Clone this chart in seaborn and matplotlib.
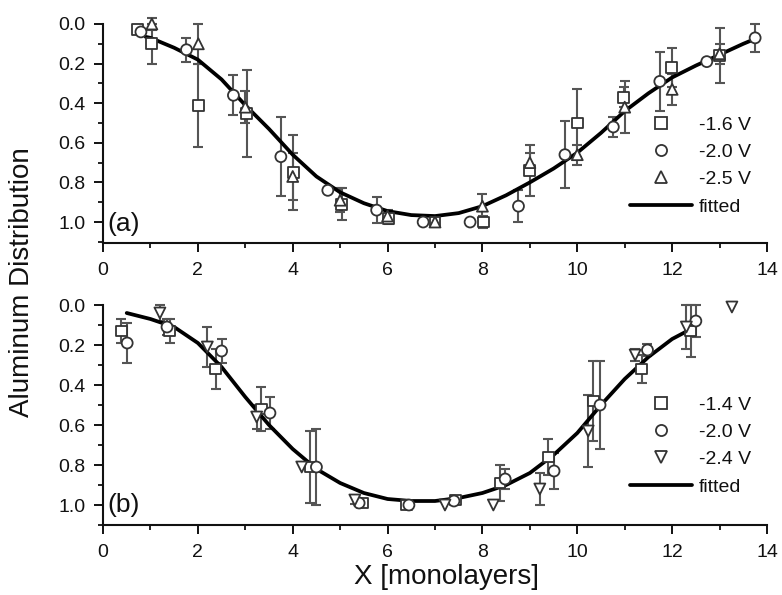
import matplotlib
matplotlib.use("Agg")
import numpy as np
import pandas as pd
import matplotlib.pyplot as plt
from matplotlib.lines import Line2D
from matplotlib.ticker import MultipleLocator, FormatStrFormatter
import seaborn as sns

sns.set_theme(style="ticks")
plt.rcParams["font.family"] = ["Liberation Sans", "DejaVu Sans"]

# ---------------- panel (a) ----------------
a_labels = ["-1.6 V", "-2.0 V", "-2.5 V"]

a16_x = [0.72, 1.03, 2.01, 3.03, 4.01, 5.03, 6.02, 7.0, 8.02, 9.0, 10.0, 10.98, 11.99, 13.0]
a16_y = [0.03, 0.10, 0.41, 0.45, 0.75, 0.91, 0.98, 1.0, 1.0, 0.74, 0.50, 0.37, 0.22, 0.16]
a16_e = [0.0, 0.10, 0.21, 0.22, 0.19, 0.08, 0.03, 0.0, 0.03, 0.13, 0.17, 0.05, 0.10, 0.14]

a20_x = [0.80, 1.76, 2.75, 3.75, 4.74, 5.77, 6.75, 7.74, 8.76, 9.74, 10.76, 11.74, 12.73, 13.75]
a20_y = [0.04, 0.13, 0.36, 0.67, 0.84, 0.94, 1.0, 1.0, 0.92, 0.66, 0.52, 0.29, 0.19, 0.07]
a20_e = [0.0, 0.06, 0.10, 0.20, 0.0, 0.065, 0.0, 0.0, 0.08, 0.17, 0.05, 0.15, 0.0, 0.07]

a25_x = [1.03, 2.01, 3.0, 4.0, 5.0, 6.0, 7.0, 8.0, 9.0, 10.0, 11.0, 12.0, 13.0]
a25_y = [0.0, 0.10, 0.42, 0.77, 0.89, 0.97, 1.0, 0.92, 0.70, 0.66, 0.42, 0.33, 0.15]
a25_e = [0.03, 0.10, 0.08, 0.12, 0.06, 0.03, 0.0, 0.06, 0.05, 0.05, 0.13, 0.08, 0.05]

fit_a_x = [0.9, 1.0, 1.5, 2.0, 2.5, 3.0, 3.5, 4.0, 4.5, 5.0, 5.5, 6.0, 6.5, 7.0,
           7.5, 8.0, 8.5, 9.0, 9.5, 10.0, 10.5, 11.0, 11.5, 12.0, 12.5, 13.0, 13.5, 13.8]
fit_a_y = [0.065, 0.07, 0.12, 0.18, 0.28, 0.41, 0.53, 0.66, 0.77, 0.85, 0.905, 0.945, 0.965, 0.97,
           0.955, 0.92, 0.865, 0.80, 0.73, 0.65, 0.55, 0.44, 0.35, 0.27, 0.21, 0.155, 0.10, 0.07]

# ---------------- panel (b) ----------------
b_labels = ["-1.4 V", "-2.0 V", "-2.4 V"]

b14_x = [0.39, 1.41, 2.38, 3.34, 4.37, 5.48, 6.39, 7.44, 8.37, 9.39, 10.34, 11.36, 12.39]
b14_y = [0.13, 0.13, 0.32, 0.52, 0.81, 0.99, 1.0, 0.975, 0.89, 0.76, 0.48, 0.32, 0.13]
b14_e = [0.06, 0.06, 0.10, 0.11, 0.18, 0.0, 0.0, 0.02, 0.09, 0.09, 0.20, 0.07, 0.13]

b20_x = [0.51, 1.35, 2.50, 3.52, 4.50, 5.40, 6.45, 7.40, 8.48, 9.51, 10.48, 11.48, 12.50]
b20_y = [0.19, 0.11, 0.23, 0.54, 0.81, 0.99, 1.0, 0.98, 0.87, 0.83, 0.50, 0.225, 0.08]
b20_e = [0.10, 0.04, 0.06, 0.08, 0.19, 0.0, 0.0, 0.0, 0.05, 0.09, 0.22, 0.03, 0.08]

b24_x = [1.20, 2.20, 3.24, 4.19, 5.31, 7.21, 8.23, 9.21, 10.23, 11.22, 12.30, 13.26]
b24_y = [0.04, 0.21, 0.56, 0.81, 0.975, 1.0, 1.0, 0.92, 0.63, 0.25, 0.11, 0.01]
b24_e = [0.04, 0.10, 0.06, 0.0, 0.02, 0.0, 0.0, 0.08, 0.18, 0.03, 0.11, 0.0]

fit_b_x = [0.5, 1.0, 1.5, 2.0, 2.5, 3.0, 3.5, 4.0, 4.5, 5.0, 5.5, 6.0, 6.5, 7.0,
           7.5, 8.0, 8.5, 9.0, 9.5, 10.0, 10.5, 11.0, 11.5, 12.0, 12.4]
fit_b_y = [0.04, 0.07, 0.11, 0.19, 0.31, 0.46, 0.60, 0.72, 0.82, 0.89, 0.94, 0.97, 0.98, 0.98,
           0.965, 0.94, 0.90, 0.84, 0.75, 0.64, 0.50, 0.37, 0.26, 0.17, 0.12]

x_ticks = [0, 2, 4, 6, 8, 10, 12, 14]
y_ticks = [0.0, 0.2, 0.4, 0.6, 0.8, 1.0]

INK = "#111111"
EDGE = "#333333"
BAR = "#555555"

W, H = 782, 595
fig = plt.figure(figsize=(W / 100, H / 100), dpi=100)
ax_a = fig.add_axes([103 / W, 1 - 243 / H, 664 / W, 219 / H])
ax_b = fig.add_axes([103 / W, 1 - 525 / H, 664 / W, 220 / H])


def series_frame(xs, ys, es, labels):
    rows = []
    for x, y, e, lab in zip(xs, ys, es, labels):
        for xi, yi, ei in zip(x, y, e):
            rows.append({"x": xi, "y": yi, "err": ei, "series": lab})
    return pd.DataFrame(rows)


def draw_panel(ax, df, labels, markers, fit_x, fit_y, ylim_bottom):
    # error bars first, underneath the open symbols
    for lab in labels:
        sub = df[(df["series"] == lab) & (df["err"] > 0)]
        ax.errorbar(sub["x"], sub["y"], yerr=sub["err"], fmt="none",
                    ecolor=BAR, elinewidth=1.5, capsize=3.8, capthick=1.5,
                    zorder=2, clip_on=False)
    # fitted profile
    fit_df = pd.DataFrame({"x": fit_x, "y": fit_y})
    sns.lineplot(data=fit_df, x="x", y="y", ax=ax, color="black", lw=2.7,
                 sort=False, zorder=3)
    # data symbols
    sns.scatterplot(data=df, x="x", y="y", style="series", style_order=labels,
                    markers=dict(zip(labels, markers)), ax=ax, s=62,
                    facecolor="white", edgecolor=EDGE, linewidth=1.3,
                    legend=False, zorder=4, clip_on=False)
    for coll in ax.collections:
        coll.set_clip_on(False)

    ax.set_xlim(0, 14)
    ax.set_ylim(ylim_bottom, 0.0)
    ax.set_xticks(x_ticks)
    ax.set_yticks(y_ticks)
    ax.xaxis.set_minor_locator(MultipleLocator(1))
    ax.yaxis.set_minor_locator(MultipleLocator(0.1))
    ax.yaxis.set_major_formatter(FormatStrFormatter("%.1f"))
    ax.set_xlabel("")
    ax.set_ylabel("")
    sns.despine(ax=ax)
    for sp in ("left", "bottom"):
        ax.spines[sp].set_linewidth(1.5)
        ax.spines[sp].set_color(INK)
    ax.tick_params(which="major", direction="out", length=6.5, width=1.4,
                   labelsize=14, color=INK, labelcolor=INK, pad=6)
    ax.tick_params(which="minor", direction="out", length=3.5, width=1.3,
                   color=INK)
    ax.tick_params(axis="x", which="major", pad=7)

    handles = [Line2D([], [], marker=m, ls="none", mfc="white", mec=EDGE,
                      mew=1.3, ms=8) for m in markers]
    handles.append(Line2D([], [], color="black", lw=2.7))
    return handles


df_a = series_frame([a16_x, a20_x, a25_x], [a16_y, a20_y, a25_y],
                    [a16_e, a20_e, a25_e], a_labels)
df_b = series_frame([b14_x, b20_x, b24_x], [b14_y, b20_y, b24_y],
                    [b14_e, b20_e, b24_e], b_labels)

h_a = draw_panel(ax_a, df_a, a_labels, ["s", "o", "^"], fit_a_x, fit_a_y, 1.106)
h_b = draw_panel(ax_b, df_b, b_labels, ["s", "o", "v"], fit_b_x, fit_b_y, 1.10)

leg_kw = dict(loc="upper left", bbox_transform=fig.transFigure, frameon=False,
              fontsize=14, handlelength=3.2, handletextpad=0.35,
              labelspacing=0.5, borderpad=0, borderaxespad=0)
leg_a = ax_a.legend(h_a, a_labels + ["fitted"], bbox_to_anchor=(630 / W, 1 - 116 / H), **leg_kw)
leg_b = ax_b.legend(h_b, b_labels + ["fitted"], bbox_to_anchor=(630 / W, 1 - 396 / H), **leg_kw)
for leg in (leg_a, leg_b):
    for t in leg.get_texts():
        t.set_color(INK)

fig.text(107 / W, 1 - 224 / H, "(a)", ha="left", va="center", fontsize=19, color=INK)
fig.text(107 / W, 1 - 505 / H, "(b)", ha="left", va="center", fontsize=19, color=INK)

fig.text(22 / W, 1 - 282 / H, "Aluminum Distribution", rotation=90,
         ha="center", va="center", fontsize=20, color=INK)
fig.text(447 / W, 1 - 577 / H, "X [monolayers]", ha="center", va="center",
         fontsize=20, color=INK)

fig.savefig("out.png", dpi=100, facecolor="white")
